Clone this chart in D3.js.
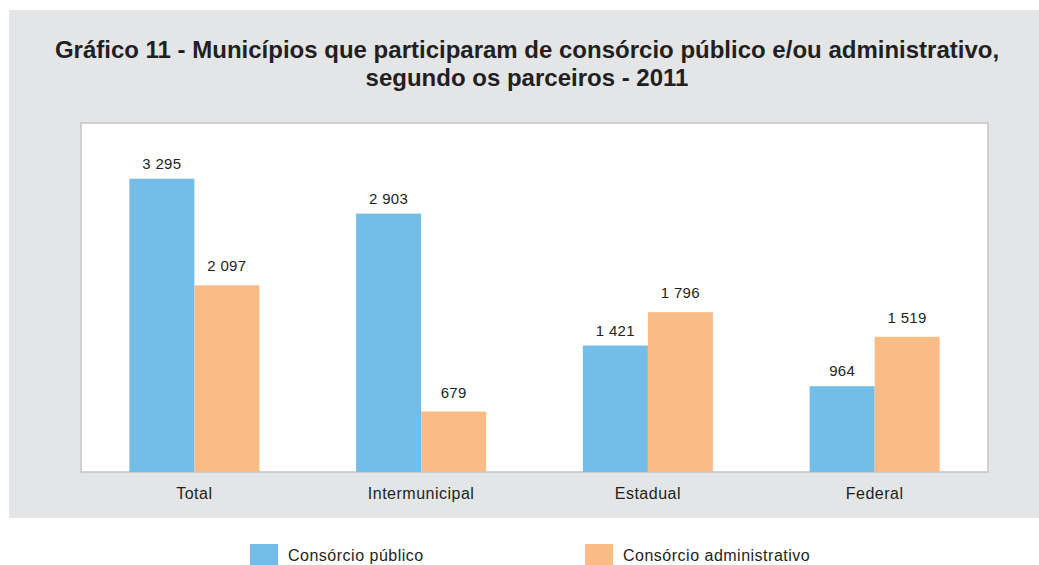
<!DOCTYPE html>
<html>
<head>
<meta charset="utf-8">
<script src="https://cdn.jsdelivr.net/npm/d3@7"></script>
<style>
  body { margin: 0; background: #fff; }
  svg { display: block; font-family: "Liberation Sans", Arial, sans-serif; }
</style>
</head>
<body>
<div id="wrapper"></div>
<script>
// data
const categories = ["Total", "Intermunicipal", "Estadual", "Federal"]
const seriesNames = ["Consórcio público", "Consórcio administrativo"]
const publico = [3295, 2903, 1421, 964]
const administrativo = [2097, 679, 1796, 1519]
const titleLines = [
    "Gráfico 11 - Municípios que participaram de consórcio público e/ou administrativo,",
    "segundo os parceiros - 2011"
]

const colors = ["#74bde8", "#f9bc86"]
const labelGap = [10, 14]

const width = 1039
const height = 565
let dimensions = {
    width: width,
    height: height,
    margin: { top: 123, right: 51, bottom: 93, left: 81 },
}
dimensions.boundedWidth = dimensions.width - dimensions.margin.left - dimensions.margin.right
dimensions.boundedHeight = dimensions.height - dimensions.margin.top - dimensions.margin.bottom

const fmt = v => d3.format(",")(v).replace(/,/g, " ")

const rows = categories.map((c, i) => ({
    cat: c,
    values: [
        { key: seriesNames[0], s: 0, v: publico[i] },
        { key: seriesNames[1], s: 1, v: administrativo[i] },
    ]
}))

const svg = d3.select("#wrapper")
    .append("svg")
    .attr("width", width)
    .attr("height", height)

// gray panel
svg.append("rect")
    .attr("x", 9).attr("y", 10)
    .attr("width", width - 9).attr("height", 508)
    .attr("fill", "#e4e5e7")

// title
svg.append("g").selectAll("text")
    .data(titleLines)
    .join("text")
    .attr("x", 527)
    .attr("y", (d, i) => 58 + i * 28)
    .attr("text-anchor", "middle")
    .attr("font-size", "24px")
    .attr("font-weight", "bold")
    .attr("fill", "#231f20")
    .text(d => d)

const bounds = svg.append("g")
    .attr("transform", `translate(${dimensions.margin.left},${dimensions.margin.top})`)

// plot area
bounds.append("rect")
    .attr("width", dimensions.boundedWidth)
    .attr("height", dimensions.boundedHeight)
    .attr("fill", "#fff")
    .attr("stroke", "#c4c5c7")
    .attr("stroke-width", 1.5)

const x0 = d3.scaleBand()
    .domain(categories)
    .range([0, dimensions.boundedWidth])
    .paddingInner(0.4267)
    .paddingOuter(0.2133)

const x1 = d3.scaleBand()
    .domain(seriesNames)
    .range([0, x0.bandwidth()])

const y = d3.scaleLinear()
    .domain([0, 3921])
    .range([dimensions.boundedHeight, 0])

const groups = bounds.selectAll("g.grp")
    .data(rows)
    .join("g")
    .attr("class", "grp")
    .attr("transform", d => `translate(${x0(d.cat)},0)`)

groups.selectAll("rect")
    .data(d => d.values)
    .join("rect")
    .attr("x", d => x1(d.key))
    .attr("y", d => y(d.v))
    .attr("width", x1.bandwidth())
    .attr("height", d => dimensions.boundedHeight - y(d.v))
    .attr("fill", d => colors[d.s])

groups.selectAll("text")
    .data(d => d.values)
    .join("text")
    .attr("x", d => x1(d.key) + x1.bandwidth() / 2)
    .attr("y", d => y(d.v) - labelGap[d.s])
    .attr("text-anchor", "middle")
    .attr("font-size", "15px")
    .attr("letter-spacing", "0.3px")
    .attr("fill", "#231f20")
    .text(d => fmt(d.v))

// x axis
const xAxis = bounds.append("g")
    .attr("transform", `translate(0,${dimensions.boundedHeight})`)
    .call(d3.axisBottom(x0).tickSize(0).tickPadding(16))
xAxis.select(".domain").remove()
xAxis.selectAll("text")
    .attr("font-size", "16px")
    .attr("letter-spacing", "0.5px")
    .attr("font-family", "Liberation Sans, Arial, sans-serif")
    .attr("fill", "#231f20")

// legend
const legendX = [250, 585]
const legend = svg.append("g").selectAll("g")
    .data(seriesNames)
    .join("g")
    .attr("transform", (d, i) => `translate(${legendX[i]},544)`)
legend.append("rect")
    .attr("width", 28).attr("height", 25)
    .attr("fill", (d, i) => colors[i])
legend.append("text")
    .attr("x", 38).attr("y", 17)
    .attr("font-size", "16px")
    .attr("letter-spacing", "0.5px")
    .attr("fill", "#231f20")
    .text(d => d)
</script>
</body>
</html>
